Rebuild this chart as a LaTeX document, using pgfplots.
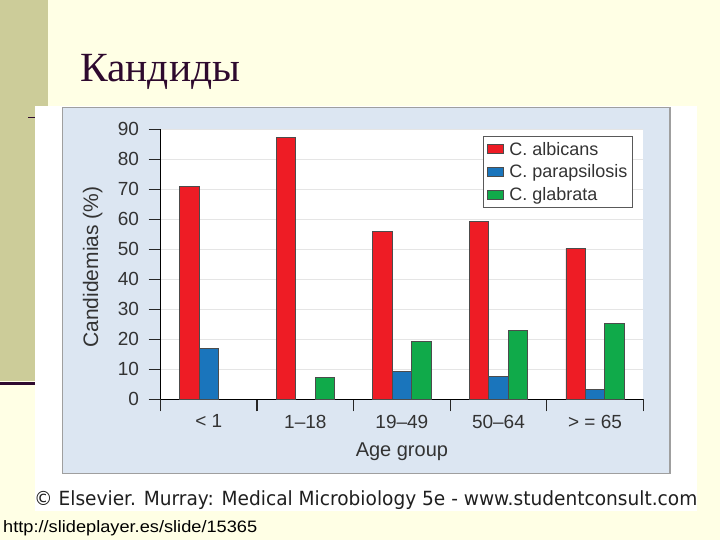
\documentclass[border=0pt]{standalone}
\usepackage{pgfplots}
\pgfplotsset{compat=1.18}
\usepackage{fontspec}
\setmainfont{Liberation Sans}
\newfontfamily\titlefont{Liberation Serif}
\newfontfamily\axisfont{Liberation Sans}
\newfontfamily\copyfont{DejaVu Sans}
\definecolor{cream}{HTML}{FFFFE5}
\definecolor{olive}{HTML}{CCCC99}
\definecolor{plum}{HTML}{2E0A2E}
\definecolor{panel}{HTML}{DCE6F2}
\definecolor{cred}{HTML}{EE1C25}
\definecolor{cblue}{HTML}{1A75BC}
\definecolor{cgreen}{HTML}{10AA4A}
\begin{document}
\begin{tikzpicture}
\fill[cream] (0,0) rectangle (720bp,-540bp);
\fill[olive] (0,0) rectangle (48bp,-381bp);
\fill[plum] (0,-381.5bp) rectangle (40bp,-384.5bp);
\draw[plum, line width=1bp] (28bp,-117bp) -- (40bp,-117bp);
\node[anchor=base west, inner sep=0, text=plum, font=\titlefont\fontsize{41.5bp}{48bp}\selectfont] at (80bp,-81.5bp) {Кандиды};
\fill[white] (35bp,-106bp) rectangle (697bp,-511bp);
\filldraw[fill=panel, draw=gray!75, line width=1.2bp] (62.5bp,-107.5bp) rectangle (670bp,-473.5bp);
\begin{axis}[
  at={(160.5bp,-399.3bp)}, anchor=south west,
  scale only axis, width=482.8bp, height=270bp,
  xmin=-0.5, xmax=4.5, ymin=0, ymax=90,
  ybar=0pt, bar width=19.4bp,
  axis x line*=bottom, axis y line*=left,
  axis line style={black, line width=1.5bp, -},
  axis background/.style={fill=white},
  xtick={-0.5,0.5,1.5,2.5,3.5,4.5},
  x tick label as interval,
  xticklabels={< 1, 1–18, 19–49, 50–64, > = 65},
  ytick={0,10,...,90},
  tick align=outside, major tick length=12bp,
  tick style={black!85, line width=1.3bp},
  ymajorgrids, grid style={black!10, line width=1bp},
  /pgf/number format/assume math mode=true,
  ticklabel style={font=\axisfont\fontsize{19bp}{22bp}\selectfont, text=black!80},
  yticklabel style={xshift=-6bp},
  xlabel={Age group},
  xlabel style={at={(axis description cs:0.5,0)}, anchor=base, yshift=-56.7bp, font=\axisfont\fontsize{20bp}{22bp}\selectfont, text=black!80},
  ylabel={Candidemias (\%)},
  ylabel style={at={(axis description cs:-0.1405,0.49)}, anchor=center, font=\axisfont\fontsize{21bp}{22bp}\selectfont, text=black!80},
  legend style={at={(0.6686,0.975)}, anchor=north west, draw=black!65, line width=0.9bp, fill=white,
    font=\axisfont\fontsize{18bp}{20bp}\selectfont, text=black!80,
    inner xsep=3bp, inner ysep=3.5bp, row sep=4bp},
  legend cell align=left,
  legend image code/.code={\draw[#1, line width=0.6bp, draw=black!70] (2bp,-4.5bp) rectangle (18bp,4.5bp); \path (22bp,0);},
]
\addplot[fill=cred, draw=black!70, line width=0.7bp] coordinates {(0,71) (1,87.3) (2,56) (3,59.4) (4,50.3)};
\addplot[fill=cblue, draw=black!70, line width=0.7bp] coordinates {(0,17) (2,9.2) (3,7.5) (4,3.4)};
\addplot[fill=cgreen, draw=black!70, line width=0.7bp] coordinates {(1,7.4) (2,19.2) (3,23.1) (4,25.3)};
\legend{C. albicans, C. parapsilosis, C. glabrata}
\end{axis}
\node[anchor=base west, inner sep=0, text=black!88, font=\copyfont\fontsize{19.5bp}{20bp}\selectfont] at (34bp,-505bp) {\resizebox{663bp}{\height}{© Elsevier. Murray: Medical Microbiology 5e - www.studentconsult.com}};
\node[anchor=base west, inner sep=0, font=\fontsize{16.5bp}{18bp}\selectfont] at (3bp,-532bp) {\resizebox{254bp}{\height}{http://slideplayer.es/slide/15365}};
\pgfresetboundingbox
\useasboundingbox (0,0) rectangle (720bp,-540bp);
\end{tikzpicture}
\end{document}
